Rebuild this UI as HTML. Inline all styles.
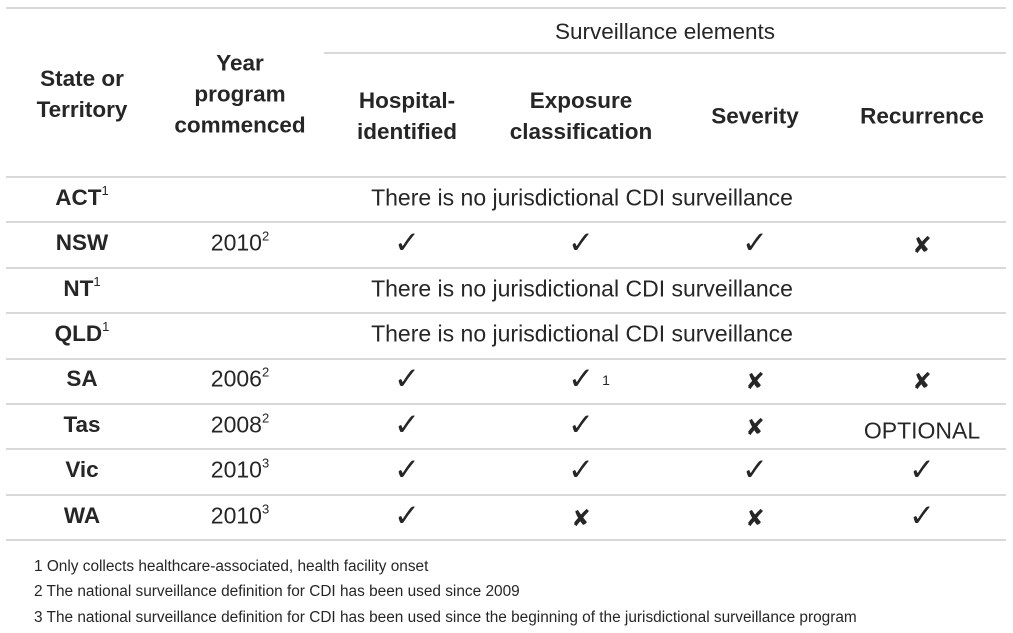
<!DOCTYPE html>
<html><head><meta charset="utf-8">
<style>
body{margin:0;width:1013px;height:633px;background:#fff;position:relative;overflow:hidden;font-family:"Liberation Sans","DejaVu Sans",sans-serif;color:#262626}
.ln{position:absolute;height:2px;background:#d9d9d9}
.t{position:absolute;transform:translate(-50%,-50%);white-space:nowrap;font-size:23px;text-align:center}
.b{font-weight:bold;font-size:22.5px;line-height:31px}
.m{font-family:"DejaVu Sans",sans-serif;font-size:31px;color:#262626;font-weight:bold}
.x{font-family:"DejaVu Sans",sans-serif;font-size:23px;font-weight:bold}
sup{font-size:13px;vertical-align:10px;line-height:0;font-weight:normal}
.fn{position:absolute;left:34px;font-size:15.4px;white-space:nowrap;transform:translateY(-50%)}
</style></head><body>
<div class="ln" style="left:6px;width:1000px;top:7px"></div>
<div class="ln" style="left:324px;width:682px;top:52px"></div>
<div class="ln" style="left:6px;width:1000px;top:176px"></div>
<div id="rules"></div>

<div class="t" style="left:665px;top:32px;font-size:22.5px">Surveillance elements</div>
<div class="t b" style="left:82px;top:94px">State or<br>Territory</div>
<div class="t b" style="left:240px;top:94px">Year<br>program<br>commenced</div>
<div class="t b" style="left:407px;top:116px">Hospital-<br>identified</div>
<div class="t b" style="left:581px;top:116px">Exposure<br>classification</div>
<div class="t b" style="left:755px;top:116px">Severity</div>
<div class="t b" style="left:922px;top:116px">Recurrence</div>

<div id="body"></div>

<div class="fn" style="top:567px">1 Only collects healthcare-associated, health facility onset</div>
<div class="fn" style="top:592px">2 The national surveillance definition for CDI has been used since 2009</div>
<div class="fn" style="top:618px">3 The national surveillance definition for CDI has been used since the beginning of the jurisdictional surveillance program</div>

<script>
const states=["ACT","NSW","NT","QLD","SA","Tas","Vic","WA"];
const stateSup=["1","","1","1","","","",""];
const years=["","2010","","","2006","2008","2010","2010"];
const yearSup=["","2","","","2","2","3","3"];
const hospital=["","Y","","","Y","Y","Y","Y"];
const exposure=["","Y","","","Y1","Y","Y","N"];
const severity=["","Y","","","N","N","Y","N"];
const recurrence=["","N","","","N","OPTIONAL","Y","Y"];
const cols=[407,581,755,922];
const rowTop=177, rowH=45.4;
const rules=document.getElementById('rules');
const body=document.getElementById('body');
for(let i=0;i<states.length;i++){
  const yb=rowTop+(i+1)*rowH;
  const r=document.createElement('div');
  r.className='ln';r.style.cssText='left:6px;width:1000px;top:'+(yb-1)+'px';
  
  
  rules.appendChild(r);
  const cy=yb-rowH/2-2;
  const s=document.createElement('div');
  s.className='t';s.style.cssText='left:82px;top:'+cy+'px;font-weight:bold;font-size:22.5px';
  s.innerHTML=states[i]+(stateSup[i]?'<sup>'+stateSup[i]+'</sup>':'');
  
  
  body.appendChild(s);
  if(!years[i]){
    const n=document.createElement('div');
    n.className='t';n.style.cssText='left:582px;top:'+cy+'px';
    n.textContent='There is no jurisdictional CDI surveillance';
    
    
    body.appendChild(n);
    continue;
  }
  const y=document.createElement('div');
  y.className='t';y.style.cssText='left:240px;top:'+cy+'px';
  y.innerHTML=years[i]+'<sup>'+yearSup[i]+'</sup>';
  
  
  body.appendChild(y);
  [hospital[i],exposure[i],severity[i],recurrence[i]].forEach((v,j)=>{
    const c=document.createElement('div');
    c.className='t';
    let top=cy;
    if(v==='Y'){c.classList.add('m');c.textContent='\u2713';}
    else if(v==='Y1'){c.classList.add('m');c.innerHTML='\u2713<span style="font-family:Liberation Sans;font-weight:normal;font-size:14px;margin-left:8px;vertical-align:4px">1</span>';}
    else if(v==='N'){c.classList.add('x');c.textContent='\u2718';top=cy+3;}
    else {c.style.fontSize='23px';top=cy+6;c.textContent=v;}
    c.style.left=(cols[j]+(v==='Y1'?8:0))+'px';c.style.top=top+'px';
    
    
    body.appendChild(c);
  });
}
</script>
</body></html>
